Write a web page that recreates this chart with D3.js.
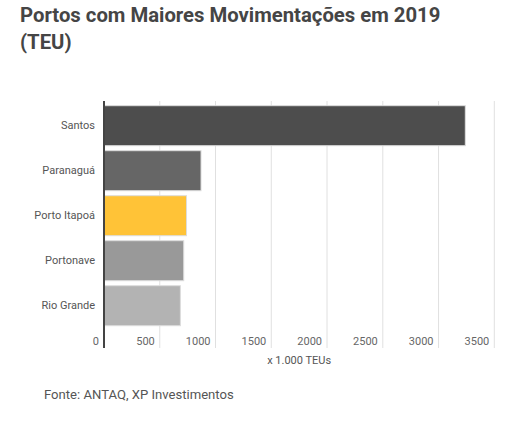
<!DOCTYPE html>
<html>
<head>
<meta charset="utf-8">
<script src="https://cdn.jsdelivr.net/npm/d3@7"></script>
<style>
  body { margin: 0; background: #fff; font-family: Roboto, sans-serif; }
</style>
</head>
<body>
<script>
// data
var ports = ["Santos", "Paranaguá", "Porto Itapoá", "Portonave", "Rio Grande"];
var teus = [3240, 870, 740, 715, 685];
var barColors = ["#4d4d4d", "#666666", "#ffc337", "#999999", "#b3b3b3"];
var xTicks = [0, 500, 1000, 1500, 2000, 2500, 3000, 3500];

var svgWidth = 516, svgHeight = 424;
var svg = d3.select("body").append("svg")
    .attr("width", svgWidth)
    .attr("height", svgHeight);

// title
var title = svg.append("text")
    .attr("x", 20).attr("y", 22)
    .attr("fill", "#454545")
    .style("font-size", "20.3px").style("font-weight", "bold");
title.append("tspan").attr("x", 20).text("Portos com Maiores Movimentações em 2019");
title.append("tspan").attr("x", 20).attr("dy", 27).text("(TEU)");

// scales
var x = d3.scaleLinear().domain([0, 3500]).range([104, 494.3]);
var y = d3.scaleBand().domain(ports).range([103.2, 328.2])
    .paddingInner(5 / 45).paddingOuter(2.5 / 45);

// gridlines
svg.append("g").selectAll("line")
    .data(xTicks.slice(1))
    .join("line")
    .attr("x1", d => x(d)).attr("x2", d => x(d))
    .attr("y1", 101).attr("y2", 348)
    .attr("stroke", "#e0e0e0").attr("stroke-width", 1);

// bars
svg.append("g").selectAll("rect")
    .data(ports)
    .join("rect")
    .attr("x", x(0))
    .attr("y", d => y(d))
    .attr("width", (d, i) => x(teus[i]) - x(0))
    .attr("height", y.bandwidth())
    .attr("fill", (d, i) => barColors[i])
    .attr("stroke", "#dddddd").attr("stroke-width", 1);

// x tick labels (right aligned left of gridline)
svg.append("g").selectAll("text")
    .data(xTicks)
    .join("text")
    .attr("x", d => x(d) - 5)
    .attr("y", 345)
    .attr("text-anchor", "end")
    .attr("fill", "#666")
    .style("font-size", "11px")
    .text(d => d);

// y axis
var yAxis = d3.axisLeft(y).tickSize(0).tickPadding(9);
var gy = svg.append("g")
    .attr("transform", "translate(" + x(0) + ",0)")
    .call(yAxis);
gy.select(".domain").remove();
gy.selectAll("text").attr("fill", "#555").style("font-size", "11px")
    .style("font-family", "Roboto, sans-serif");

svg.append("line")
    .attr("x1", x(0)).attr("x2", x(0))
    .attr("y1", 101).attr("y2", 348)
    .attr("stroke", "#444").attr("stroke-width", 2);

// x axis title
svg.append("text")
    .attr("x", (x(0) + x(3500)) / 2).attr("y", 364)
    .attr("text-anchor", "middle")
    .attr("fill", "#555")
    .style("font-size", "11px")
    .text("x 1.000 TEUs");

// source
svg.append("text")
    .attr("x", 44).attr("y", 399)
    .attr("fill", "#555")
    .style("font-size", "13.1px")
    .text("Fonte: ANTAQ, XP Investimentos");
</script>
</body>
</html>
